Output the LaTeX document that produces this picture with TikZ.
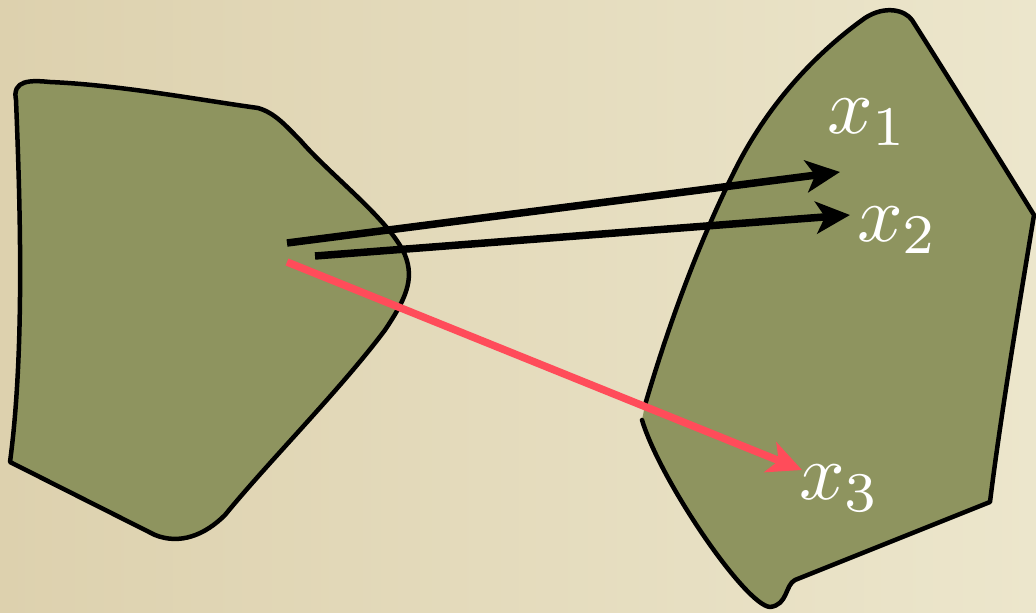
\documentclass[tikz,border=0pt]{standalone}
\usetikzlibrary{arrows.meta}
\definecolor{olive}{RGB}{142,148,95}
\definecolor{redarrow}{RGB}{255,76,90}
\definecolor{bgl}{RGB}{221,209,174}
\definecolor{bgr}{RGB}{236,230,204}
\tikzset{
  region/.style={fill=olive},
  outline/.style={line width=4.5pt, line join=round, line cap=round},
  arr/.style={line width=7.5pt, -{Stealth[length=34pt,width=32pt,inset=9pt]}},
  lab/.style={text=white, scale=8, inner sep=0pt}
}
\begin{document}
\begin{tikzpicture}[x=1pt,y=-1pt]
\useasboundingbox (0,0) rectangle (1036,613);
\shade[left color=bgl, right color=bgr] (0,0) rectangle (1036,613);
% left region
\path[region] (16,100) .. controls (12,80) and (30,80) .. (50,82)
  .. controls (120,85) and (200,100) .. (258,108)
  .. controls (275,113) and (285,125) .. (300,140)
  .. controls (330,175) and (390,220) .. (405,255)
  .. controls (415,280) and (405,300) .. (385,330)
  .. controls (340,390) and (270,460) .. (225,515)
  .. controls (205,535) and (180,545) .. (155,535)
  -- (10,462) .. controls (25,350) and (20,200) .. (16,100) -- cycle;
\draw[outline] (16,100) .. controls (12,80) and (30,80) .. (50,82)
  .. controls (120,85) and (200,100) .. (258,108)
  .. controls (275,113) and (285,125) .. (300,140)
  .. controls (330,175) and (390,220) .. (405,255)
  .. controls (415,280) and (405,300) .. (385,330)
  .. controls (340,390) and (270,460) .. (225,515)
  .. controls (205,535) and (180,545) .. (155,535)
  -- (10,462) .. controls (25,350) and (20,200) .. (16,100) -- cycle;
% right region
\path[region] (645,405) .. controls (670,320) and (700,240) .. (735,170)
  .. controls (770,100) and (820,50) .. (865,18)
  .. controls (885,5) and (905,10) .. (912,20)
  .. controls (950,80) and (1000,160) .. (1034,215)
  .. controls (1020,300) and (1000,420) .. (990,502)
  -- (795,580) .. controls (785,585) and (788,605) .. (770,607)
  .. controls (745,605) and (660,480) .. (642,420) -- cycle;
\draw[outline] (645,405) .. controls (670,320) and (700,240) .. (735,170)
  .. controls (770,100) and (820,50) .. (865,18)
  .. controls (885,5) and (905,10) .. (912,20)
  .. controls (950,80) and (1000,160) .. (1034,215)
  .. controls (1020,300) and (1000,420) .. (990,502)
  -- (795,580) .. controls (785,585) and (788,605) .. (770,607)
  .. controls (745,605) and (660,480) .. (642,420);
% arrows
\coordinate (s1) at (287,243);
\coordinate (s2) at (315,256);
\coordinate (s3) at (287,262);
\coordinate (t1) at (840,172);
\coordinate (t2) at (850,215);
\coordinate (t3) at (802,470);
\draw[arr, black] (s1) -- (t1);
\draw[arr, black] (s2) -- (t2);
\draw[arr, redarrow] (s3) -- (t3);
% labels
\node[lab] (x1) at (868,122) {$x_1$};
\node[lab] (x2) at (898,230) {$x_2$};
\node[lab] (x3) at (840,488) {$x_3$};
\end{tikzpicture}
\end{document}
